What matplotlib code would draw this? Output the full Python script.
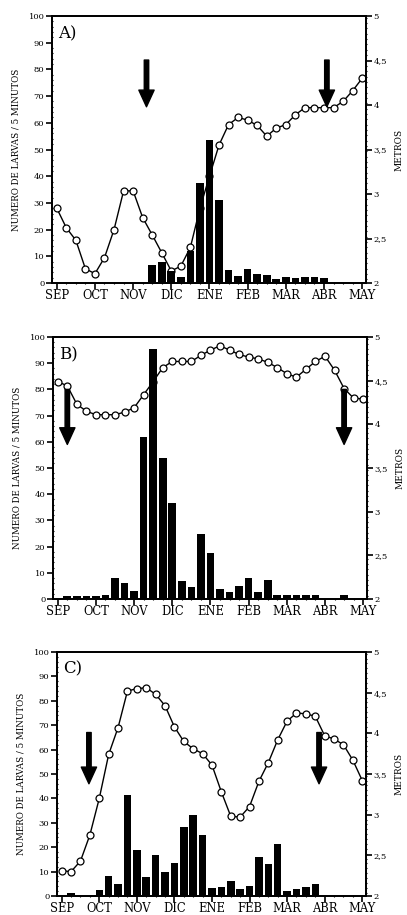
import numpy as np
import matplotlib
matplotlib.use('Agg')
import matplotlib.pyplot as plt
from matplotlib.ticker import MultipleLocator, FixedLocator

# Datos (semanas SEP -> MAY)
semanas = np.arange(33)
meses = ['SEP', 'OCT', 'NOV', 'DIC', 'ENE', 'FEB', 'MAR', 'ABR', 'MAY']
pos_meses = np.arange(0, 33, 4)
metros_ticks = [2, 2.5, 3, 3.5, 4, 4.5, 5]
metros_labels = ['2', '2,5', '3', '3,5', '4', '4,5', '5']

# A) larvas / 5 min y nivel (metros)
larvas_A = [0, 0, 0, 0, 0, 0, 0, 0, 0, 0,
            6.9, 7.9, 4.4, 2.2, 12, 37.5, 53.5, 31, 5, 2.5,
            5.4, 3.5, 2.9, 1.6, 2.4, 1.9, 2.1, 2.1, 1.9, 0,
            0, 0, 0]
metros_A = [2.84, 2.62, 2.48, 2.16, 2.105, 2.285, 2.60, 3.035, 3.035, 2.735,
            2.54, 2.34, 2.135, 2.19, 2.40, 2.84, 3.20, 3.55, 3.78, 3.86,
            3.83, 3.77, 3.65, 3.74, 3.78, 3.89, 3.97, 3.97, 3.97, 3.97,
            4.04, 4.16, 4.30]
flechas_A = [9.4, 28.3]

# B)
larvas_B = [0, 1, 1, 1, 1, 1.5, 8, 6, 3, 62,
            95.5, 54, 36.5, 7, 4.5, 25, 17.5, 4, 2.5, 4.8,
            8, 2.5, 7.2, 1.5, 1.5, 1.5, 1.5, 1.5, 0, 0,
            1.5, 0, 0]
metros_B = [4.49, 4.44, 4.23, 4.15, 4.11, 4.11, 4.11, 4.14, 4.19, 4.34,
            4.49, 4.65, 4.72, 4.72, 4.72, 4.79, 4.85, 4.90, 4.85, 4.80,
            4.77, 4.75, 4.71, 4.65, 4.58, 4.54, 4.63, 4.72, 4.78, 4.62,
            4.41, 4.30, 4.29]
flechas_B = [1.0, 30.0]

# C)
larvas_C = [0, 1.4, 0, 0, 2.4, 8.4, 4.9, 41.2, 18.8, 7.9,
            17, 9.9, 13.6, 28.3, 33.3, 24.9, 3.1, 3.5, 6.1, 3,
            4, 16, 13.3, 21.5, 2, 3, 3.5, 4.8, 0, 0,
            0, 0, 0]
metros_C = [2.31, 2.30, 2.43, 2.75, 3.20, 3.74, 4.07, 4.52, 4.55, 4.56,
            4.48, 4.34, 4.08, 3.90, 3.81, 3.75, 3.61, 3.28, 2.98, 2.97,
            3.10, 3.41, 3.64, 3.92, 4.15, 4.25, 4.24, 4.21, 3.97, 3.93,
            3.86, 3.67, 3.42]
flechas_C = [2.9, 27.4]

paneles = [
    ('A)', larvas_A, metros_A, flechas_A, (83.5, 66), [52 / 407, 1 - 283 / 915, 314 / 407, 267 / 915]),
    ('B)', larvas_B, metros_B, flechas_B, (80, 59), [53 / 407, 1 - 599 / 915, 314 / 407, 262 / 915]),
    ('C)', larvas_C, metros_C, flechas_C, (67, 46), [57 / 407, 1 - 896 / 915, 309 / 407, 244 / 915]),
]

plt.rcParams['font.family'] = 'DejaVu Serif'

fig = plt.figure(figsize=(4.07, 9.15), dpi=100)

for nombre, larvas, metros, flechas, (f_top, f_tip), rect in paneles:
    ax = fig.add_axes(rect)
    ax2 = ax.twinx()
    # barras por delante de la linea
    ax.set_zorder(ax2.get_zorder() + 1)
    ax.patch.set_visible(False)

    ax.bar(semanas, larvas, width=0.8, color='black')
    ax2.plot(semanas, metros, '-o', color='black', linewidth=1.0,
             markersize=5, markerfacecolor='white', markeredgewidth=0.9)

    for fx in flechas:
        ax.annotate('', xy=(fx, f_tip), xytext=(fx, f_top),
                    arrowprops=dict(facecolor='black', edgecolor='black',
                                    width=3.2, headwidth=11, headlength=12, shrink=0))

    ax.set_xlim(-0.5, 32.4)
    ax.set_ylim(0, 100)
    ax2.set_ylim(2, 5)

    ax.xaxis.set_major_locator(FixedLocator(pos_meses))
    ax.set_xticklabels(meses, fontsize=8.3)
    ax.xaxis.set_minor_locator(MultipleLocator(1))
    ax.yaxis.set_major_locator(MultipleLocator(10))
    ax.yaxis.set_minor_locator(MultipleLocator(2))
    ax.tick_params(axis='y', which='major', labelsize=6, length=4, width=1.2, direction='out', pad=1.5)
    ax.tick_params(axis='y', which='minor', length=2, width=0.8, direction='inout')
    ax.tick_params(axis='x', which='major', length=4, width=1.2, direction='out', pad=0.5)
    ax.tick_params(axis='x', which='minor', length=2, width=0.8, direction='inout')

    ax2.yaxis.set_major_locator(FixedLocator(metros_ticks))
    ax2.set_yticklabels(metros_labels, fontsize=6)
    ax2.yaxis.set_minor_locator(MultipleLocator(0.06))
    ax2.tick_params(axis='y', which='major', length=4, width=1.2, direction='out', pad=1.5)
    ax2.tick_params(axis='y', which='minor', length=2, width=0.8, direction='inout')

    for a in (ax, ax2):
        for s in a.spines.values():
            s.set_linewidth(1.3)

    ax.set_ylabel('NUMERO DE LARVAS / 5 MINUTOS', fontsize=6.3, labelpad=6)
    ax2.set_ylabel('METROS', fontsize=6.5, labelpad=5)

    ax.text(0.02, 0.965, nombre, transform=ax.transAxes, fontsize=12, va='top', ha='left')

fig.savefig('out.png', dpi=100)
